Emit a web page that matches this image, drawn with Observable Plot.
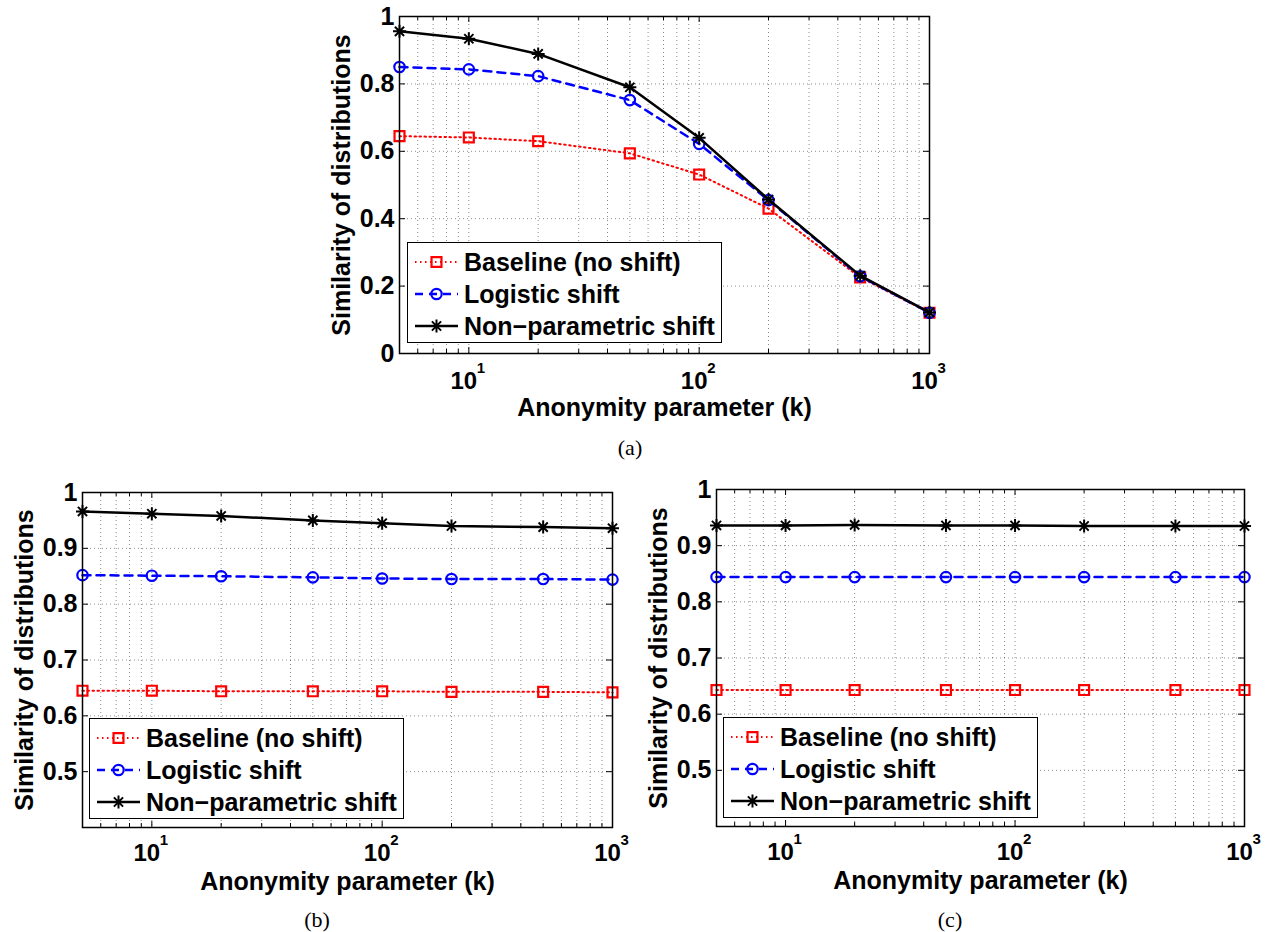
<!DOCTYPE html>
<html><head><meta charset="utf-8">
<script src="https://cdn.jsdelivr.net/npm/d3@7"></script>
<script src="https://cdn.jsdelivr.net/npm/@observablehq/plot@0.6"></script>
<style>
html,body{margin:0;padding:0;background:#fff;}
body{width:1267px;height:932px;position:relative;overflow:hidden;}
.panel{position:absolute;}
.legend{position:absolute;background:#fff;border:1.5px solid #000;box-sizing:border-box;font:bold 25px "Liberation Sans",Arial,Helvetica,sans-serif;color:#000;}
.legend .row{position:absolute;left:0;height:30px;width:100%;}
.legend .row svg{position:absolute;left:0;top:0;}
.legend .row span{position:absolute;left:56px;top:0;line-height:30px;white-space:nowrap;}
.caption{position:absolute;font:22px "Liberation Serif","DejaVu Serif",serif;transform:translate(-50%,-50%);color:#000;}
</style></head><body>
<script>
// ---------- data ----------
const ks = [5, 10, 20, 50, 100, 200, 500, 1000];
const seriesNames = ["Baseline (no shift)", "Logistic shift", "Non\u2212parametric shift"];

// panel (a)
const baselineA = [0.645, 0.641, 0.630, 0.594, 0.531, 0.430, 0.226, 0.121];
const logisticA = [0.850, 0.843, 0.823, 0.752, 0.622, 0.455, 0.229, 0.121];
const nonparA   = [0.956, 0.934, 0.889, 0.790, 0.640, 0.457, 0.231, 0.122];
// panel (b)
const baselineB = [0.645, 0.645, 0.644, 0.644, 0.644, 0.643, 0.643, 0.642];
const logisticB = [0.852, 0.851, 0.850, 0.848, 0.846, 0.845, 0.845, 0.844];
const nonparB   = [0.966, 0.962, 0.958, 0.950, 0.945, 0.940, 0.938, 0.936];
// panel (c)
const baselineC = [0.643, 0.643, 0.643, 0.643, 0.643, 0.643, 0.643, 0.643];
const logisticC = [0.844, 0.844, 0.844, 0.844, 0.844, 0.844, 0.844, 0.844];
const nonparC   = [0.936, 0.936, 0.937, 0.936, 0.936, 0.935, 0.935, 0.935];

const xMajorTicks = [10, 100, 1000];
const xMinorTicks = [6, 7, 8, 9, 20, 30, 40, 50, 60, 70, 80, 90, 200, 300, 400, 500, 600, 700, 800, 900];
const yTicksA = [0, 0.2, 0.4, 0.6, 0.8, 1];
const yTicksBC = [0.5, 0.6, 0.7, 0.8, 0.9, 1];
const yLabel = "Similarity of distributions";
const xLabel = "Anonymity parameter (k)";
const captions = ["(a)", "(b)", "(c)"];

// ---------- styles ----------
const star = {
  draw(ctx, size) {
    const r = Math.sqrt(size / Math.PI), d = r * Math.SQRT1_2;
    ctx.moveTo(0, -r); ctx.lineTo(0, r);
    ctx.moveTo(-r, 0); ctx.lineTo(r, 0);
    ctx.moveTo(-d, -d); ctx.lineTo(d, d);
    ctx.moveTo(-d, d); ctx.lineTo(d, -d);
  }
};
const styles = [
  {stroke: "#ff0000", width: 2, dash: "1.5,3.5", symbol: "square", d3sym: d3.symbolSquare, r: 5.6, mw: 2.2},
  {stroke: "#0000ff", width: 2.5, dash: "8,6", symbol: "circle", d3sym: d3.symbolCircle, r: 5.2, mw: 2.2},
  {stroke: "#000000", width: 2.5, dash: null, symbol: star, d3sym: star, r: 6.5, mw: 2}
];
const FONT = '"Liberation Sans", Arial, Helvetica, sans-serif';

function panel({series, yDomain, yTicks, frameW, frameH, left, top, marginRight, tickDy}) {
  const mL = 80, mT = 16, mB = 72;
  const W = mL + frameW + marginRight, H = mT + frameH + mB;
  const yGrid = yTicks.filter(t => t > yDomain[0] && t < yDomain[1]);
  const xGrid = [...xMinorTicks, 10, 100];
  const xMajIn = [10, 100];
  const grid = {stroke: "#000", strokeOpacity: 0.45, strokeDasharray: "1,3", strokeWidth: 1};
  const marks = [
    Plot.ruleX(xGrid, {x: d => d, ...grid}),
    Plot.ruleY(yGrid, {y: d => d, ...grid}),
    Plot.tickX(xMajIn, {x: d => d, insetTop: frameH - 6}),
    Plot.tickX(xMajIn, {x: d => d, insetBottom: frameH - 6}),
    Plot.tickX(xMinorTicks, {x: d => d, insetTop: frameH - 4}),
    Plot.tickX(xMinorTicks, {x: d => d, insetBottom: frameH - 4}),
    Plot.tickY(yGrid, {y: d => d, insetRight: frameW - 6}),
    Plot.tickY(yGrid, {y: d => d, insetLeft: frameW - 6})
  ];
  series.forEach((vals, i) => {
    const st = styles[i];
    const rows = ks.map((k, j) => ({k, v: vals[j]}));
    marks.push(Plot.line(rows, {x: "k", y: "v", stroke: st.stroke, strokeWidth: st.width, strokeDasharray: st.dash}));
    marks.push(Plot.dot(rows, {x: "k", y: "v", symbol: st.symbol, r: st.r, stroke: st.stroke, fill: "none", strokeWidth: st.mw}));
  });
  marks.push(Plot.frame({stroke: "#000", strokeWidth: 1.5}));
  // tick labels
  marks.push(Plot.text(yTicks, {y: d => d, frameAnchor: "left", textAnchor: "end", dx: -5, text: d => String(d), fontSize: 25, fontWeight: "bold"}));
  marks.push(Plot.text(xMajorTicks, {x: d => d, frameAnchor: "bottom", textAnchor: "middle", lineAnchor: "top", dx: -5, dy: tickDy, text: () => "10", fontSize: 24, fontWeight: "bold"}));
  marks.push(Plot.text(xMajorTicks, {x: d => d, frameAnchor: "bottom", textAnchor: "start", lineAnchor: "top", dx: 8, dy: tickDy - 9, text: d => String(Math.round(Math.log10(d))), fontSize: 15, fontWeight: "bold"}));
  // axis titles
  marks.push(Plot.text([xLabel], {frameAnchor: "bottom", lineAnchor: "middle", dy: 54, text: d => d, fontSize: 25, fontWeight: "bold"}));
  marks.push(Plot.text([yLabel], {frameAnchor: "left", lineAnchor: "middle", textAnchor: "middle", rotate: -90, dx: -58, text: d => d, fontSize: 25, fontWeight: "bold"}));

  const svg = Plot.plot({
    width: W, height: H,
    marginLeft: mL, marginRight: marginRight, marginTop: mT, marginBottom: mB,
    x: {type: "log", domain: [5, 1000], axis: null},
    y: {domain: yDomain, axis: null},
    style: {fontFamily: FONT, fontWeight: "bold", fontSize: "24px", background: "transparent", color: "#000", overflow: "visible"},
    marks
  });
  const div = document.createElement("div");
  div.className = "panel";
  div.style.left = left + "px";
  div.style.top = top + "px";
  div.appendChild(svg);
  document.body.appendChild(div);
}

function legend(left, top) {
  const box = document.createElement("div");
  box.className = "legend";
  box.style.left = left + "px";
  box.style.top = top + "px";
  box.style.width = "315px";
  box.style.height = "101px";
  seriesNames.forEach((name, i) => {
    const st = styles[i];
    const row = document.createElement("div");
    row.className = "row";
    row.style.top = (4 + 32 * i) + "px";
    const s = d3.create("svg").attr("width", 56).attr("height", 30);
    s.append("line").attr("x1", 7).attr("x2", 50).attr("y1", 15).attr("y2", 15)
      .attr("stroke", st.stroke).attr("stroke-width", st.width)
      .attr("stroke-dasharray", st.dash);
    s.append("path").attr("transform", "translate(28.5,15)")
      .attr("d", d3.symbol(st.d3sym, Math.PI * st.r * st.r)())
      .attr("fill", "none").attr("stroke", st.stroke).attr("stroke-width", st.mw);
    row.appendChild(s.node());
    const t = document.createElement("span");
    t.textContent = name;
    row.appendChild(t);
    box.appendChild(row);
  });
  document.body.appendChild(box);
}

function caption(text, cx, cy) {
  const c = document.createElement("div");
  c.className = "caption";
  c.textContent = text;
  c.style.left = cx + "px";
  c.style.top = cy + "px";
  document.body.appendChild(c);
}

panel({series: [baselineA, logisticA, nonparA], yDomain: [0, 1], yTicks: yTicksA, frameW: 530, frameH: 337, left: 319, top: 0, marginRight: 20, tickDy: 18});
panel({series: [baselineB, logisticB, nonparB], yDomain: [0.4, 1], yTicks: yTicksBC, frameW: 530, frameH: 335, left: 2, top: 476, marginRight: 20, tickDy: 16});
panel({series: [baselineC, logisticC, nonparC], yDomain: [0.4, 1], yTicks: yTicksBC, frameW: 528, frameH: 337, left: 636, top: 473, marginRight: 20, tickDy: 16});

legend(407, 242);
legend(89, 718);
legend(723, 717);

caption(captions[0], 630, 448);
caption(captions[1], 317, 920);
caption(captions[2], 950, 920);
</script>
</body></html>
